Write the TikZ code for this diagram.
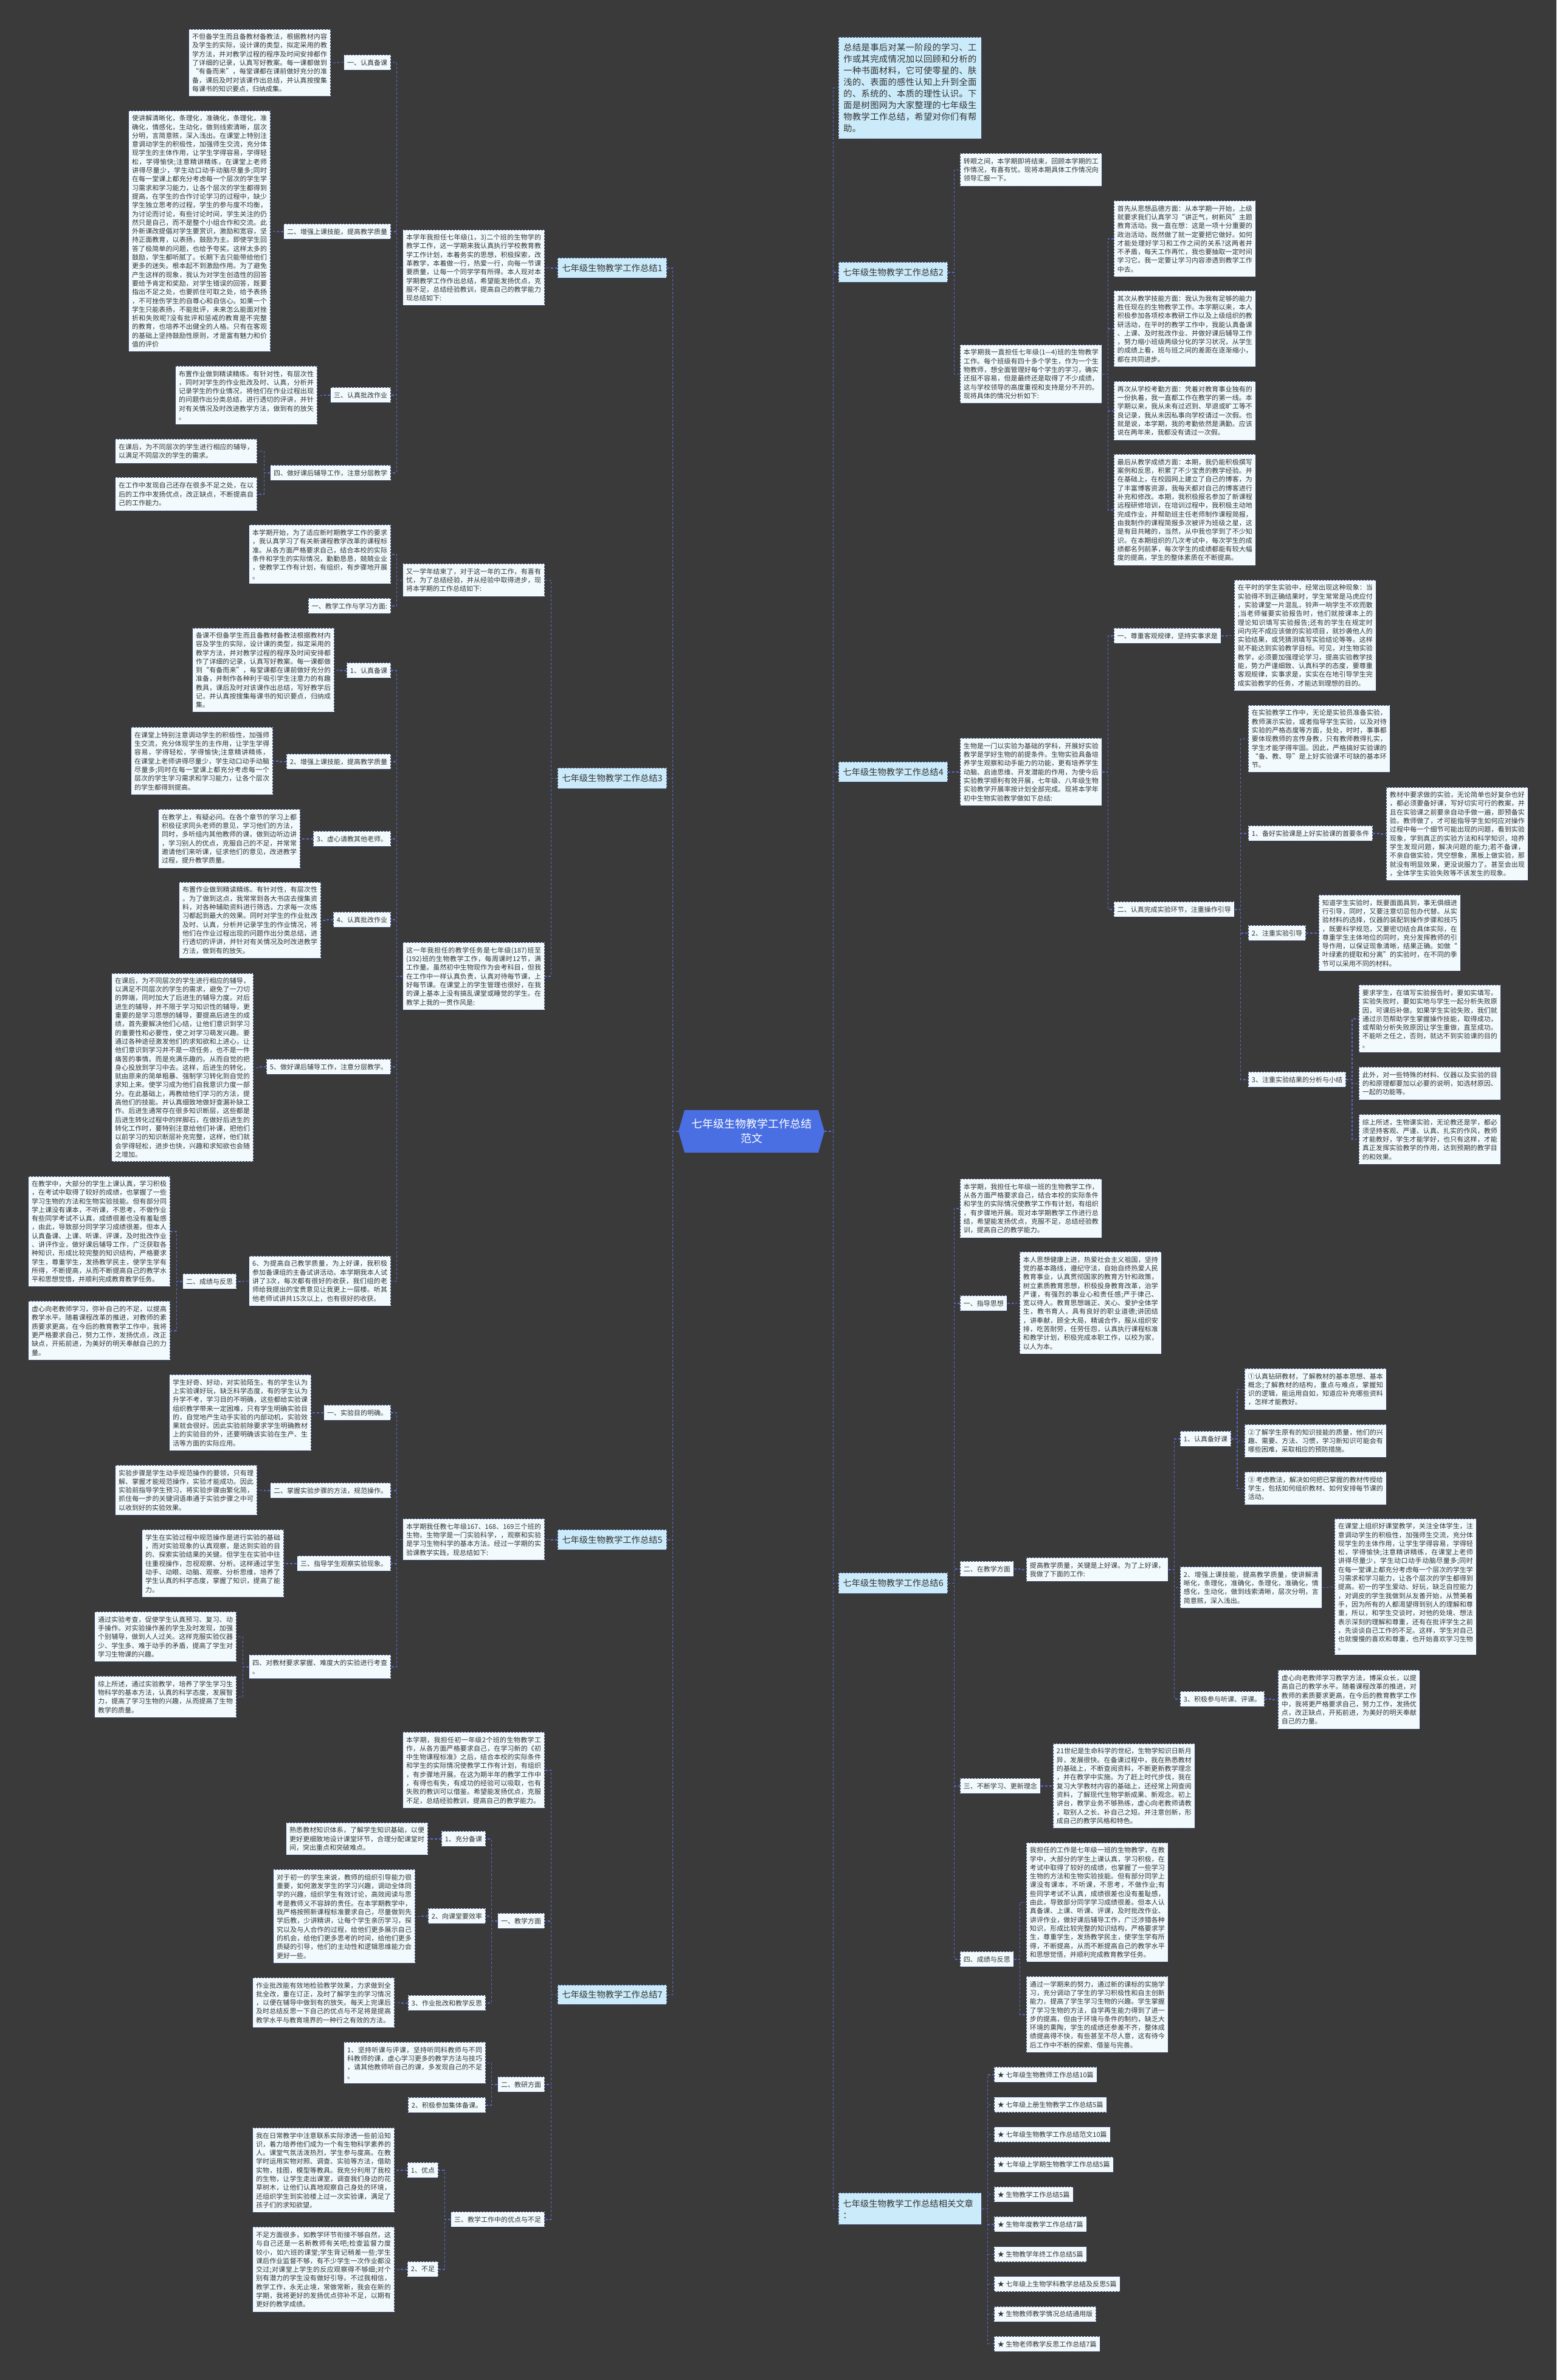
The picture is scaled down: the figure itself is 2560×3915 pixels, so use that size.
\documentclass[tikz,border=0pt]{standalone}
\usepackage{fontspec}
\setmainfont{Noto Sans CJK SC}
\usetikzlibrary{positioning}
\definecolor{bgc}{HTML}{3A3A3B}
\definecolor{boxc}{HTML}{F2FAFE}
\definecolor{headc}{HTML}{CBEBFA}
\definecolor{bordc}{HTML}{34457A}
\definecolor{linkc}{HTML}{5A68CC}
\definecolor{cenc}{HTML}{4A6FE3}
\definecolor{txtc}{HTML}{333333}
% CJK line breaks: allow a break between any two CJK characters
\XeTeXinterchartokenstate=1
\chardef\cjkc=10
\newcount\cjkn
\cjkn="2460 \loop \XeTeXcharclass\cjkn=\cjkc \advance\cjkn by 1 \ifnum\cjkn<"2500 \repeat
\cjkn="2600 \loop \XeTeXcharclass\cjkn=\cjkc \advance\cjkn by 1 \ifnum\cjkn<"2700 \repeat
\cjkn="3000 \loop \XeTeXcharclass\cjkn=\cjkc \advance\cjkn by 1 \ifnum\cjkn<"A000 \repeat
\cjkn="FF00 \loop \XeTeXcharclass\cjkn=\cjkc \advance\cjkn by 1 \ifnum\cjkn<"FFF0 \repeat
\XeTeXcharclass"201C=\cjkc \XeTeXcharclass"201D=\cjkc
\XeTeXinterchartoks\cjkc\cjkc={\hskip0pt plus 1pt\relax}
\XeTeXinterchartoks\cjkc 0={\hskip0pt plus 1pt\relax}
\XeTeXinterchartoks 0\cjkc={\hskip0pt plus 1pt\relax}
\newcommand{\fsz}[2]{\fontsize{#1}{#2}\selectfont}
% elbow connectors: parent edge -> spine -> child edge
\newcommand{\linkL}[3][10]{\draw[link] (#2.west) -- ++(-#1pt,0) |- (#3.east);}
\newcommand{\linkR}[3][10]{\draw[link] (#2.east) -- ++(#1pt,0) |- (#3.west);}
\begin{document}
\begin{tikzpicture}[x=1pt, y=-1pt,
  tb/.style={draw=bordc, dash pattern=on 3pt off 2pt, line width=0.9pt, fill=boxc, text=txtc,
    font=\fsz{11}{14.3}, text width=222pt, align=justify, inner xsep=5.5pt, inner ysep=6.5pt},
  lb/.style={draw=bordc, dash pattern=on 3pt off 2pt, line width=0.9pt, fill=boxc, text=txtc,
    font=\fsz{11}{14.3}, inner xsep=5.5pt, inner ysep=4pt, minimum height=25pt},
  hd/.style={draw=bordc, dash pattern=on 3pt off 2pt, line width=0.9pt, fill=headc, text=txtc,
    font=\fsz{14.3}{19}, inner xsep=7pt, inner ysep=4pt, minimum height=33pt},
  link/.style={draw=linkc, dash pattern=on 4pt off 3pt, line width=1.1pt},
  L/.style={anchor=north east}, R/.style={anchor=north west}]
\useasboundingbox (0,0) rectangle (2560,3915);
\fill[bgc] (0,0) rectangle (2560,3915);

% --- centre ---
\fill[cenc] (1116,1861) -- (1126,1826) -- (1346,1826) -- (1356,1861) -- (1346,1896) -- (1126,1896) -- cycle;
\node[text=white, font=\fsz{18}{24}, align=center, minimum width=240pt, minimum height=70pt] (cen) at (1236,1861) {七年级生物教学工作总结\\范文};

% --- 总结1 ---
\node[hd, L] (h1) at (1097,424) {七年级生物教学工作总结1};
\node[tb, L, minimum height=124pt] (i1) at (896,378) {本学年我担任七年级(1，3)二个班的生物学的教学工作，这一学期来我认真执行学校教育教学工作计划，本着务实的思想，积极探索，改革教学，本着做一行，热爱一行，向每一节课要质量，让每一个同学学有所得。本人现对本学期教学工作作出总结，希望能发扬优点，克服不足，总结经验教训，提高自己的教学能力现总结如下:};
\node[lb, L] (a1) at (643,90) {一、认真备课};
\node[tb, L, minimum height=110pt] (a1t) at (544,48) {不但备学生而且备教材备教法，根据教材内容及学生的实际，设计课的类型，拟定采用的教学方法，并对教学过程的程序及时间安排都作了详细的记录，认真写好教案。每一课都做到“有备而来”，每堂课都在课前做好充分的准备，课后及时对该课作出总结，并认真按搜集每课书的知识要点，归纳成集。};
\node[lb, L] (a2) at (643,368) {二、增强上课技能，提高教学质量};
\node[tb, L, minimum height=396pt] (a2t) at (445,182) {使讲解清晰化，条理化，准确化，条理化，准确化，情感化，生动化，做到线索清晰，层次分明，言简意赅，深入浅出。在课堂上特别注意调动学生的积极性，加强师生交流，充分体现学生的主体作用，让学生学得容易，学得轻松，学得愉快;注意精讲精练，在课堂上老师讲得尽量少，学生动口动手动脑尽量多;同时在每一堂课上都充分考虑每一个层次的学生学习需求和学习能力，让各个层次的学生都得到提高。在学生的合作讨论学习的过程中，缺少学生独立思考的过程，学生的参与度不均衡，为讨论而讨论，有些讨论时间，学生关注的仍然只是自己，而不是整个小组合作和交流。此外新课改提倡对学生要赏识，激励和宽容，坚持正面教育，以表扬，鼓励为主。即使学生回答了极简单的问题，也给予夸奖。这样太多的鼓励，学生都听腻了。长期下去只能带给他们更多的迷失。根本起不到激励作用。为了避免产生这样的现象，我认为对学生创造性的回答要给予肯定和奖励，对学生错误的回答，既要指出不足之处，也要抓住可取之处，给予表扬，不可挫伤学生的自尊心和自信心。如果一个学生只能表扬，不能批评，未来怎么能面对挫折和失败呢?没有批评和惩戒的教育是不完整的教育，也培养不出健全的人格。只有在客观的基础上坚持鼓励性原则，才是富有魅力和价值的评价};
\node[lb, L] (a3) at (643,637) {三、认真批改作业};
\node[tb, L, minimum height=96pt] (a3t) at (522,602) {布置作业做到精读精练。有针对性，有层次性，同时对学生的作业批改及时、认真，分析并记录学生的作业情况，将他们在作业过程出现的问题作出分类总结，进行透切的评讲，并针对有关情况及时改进教学方法，做到有的放矢。};
\node[lb, L] (a4) at (643,765) {四、做好课后辅导工作，注意分层教学};
\node[tb, L, minimum height=40pt] (a4t) at (423,722) {在课后，为不同层次的学生进行相应的辅导，以满足不同层次的学生的需求。};
\node[tb, L, minimum height=55pt] (a4u) at (423,785) {在工作中发现自己还存在很多不足之处，在以后的工作中发扬优点，改正缺点，不断提高自己的工作能力。};

% --- 总结3 ---
\node[hd, L, minimum height=34pt] (h3) at (1097,1263) {七年级生物教学工作总结3};
\node[tb, L, minimum height=54pt] (i3) at (896,927) {又一学年结束了，对于这一年的工作，有喜有忧，为了总结经验，并从经验中取得进步，现将本学期的工作总结如下:};
\node[tb, L, minimum height=97pt] (c1) at (643,863) {本学期开始，为了适应新时期教学工作的要求，我认真学习了有关新课程教学改革的课程标准。从各方面严格要求自己，结合本校的实际条件和学生的实际情况，勤勤恳恳，兢兢业业，使教学工作有计划，有组织，有步骤地开展。};
\node[lb, L] (c2) at (643,984) {一、教学工作与学习方面:};
\node[tb, L, minimum height=111pt] (i3b) at (896,1550) {这一年我担任的教学任务是七年级(187)班至(192)班的生物教学工作，每周课时12节，满工作量。虽然初中生物现作为会考科目，但我在工作中一样认真负责，认真对待每节课，上好每节课。在课堂上的学生管理也很好，在我的课上基本上没有搞乱课堂或睡觉的学生。在教学上我的一贯作风是:};
\node[lb, L] (b1) at (643,1090) {1、认真备课};
\node[tb, L, minimum height=138pt] (b1t) at (550,1033) {备课不但备学生而且备教材备教法根据教材内容及学生的实际，设计课的类型，拟定采用的教学方法，并对教学过程的程序及时间安排都作了详细的记录，认真写好教案。每一课都做到“有备而来”，每堂课都在课前做好充分的准备，并制作各种利于吸引学生注意力的有趣教具，课后及时对该课作出总结，写好教学后记，并认真按搜集每课书的知识要点，归纳成集。};
\node[lb, L] (b2) at (643,1240) {2、增强上课技能，提高教学质量};
\node[tb, L, minimum height=111pt] (b2t) at (449,1196) {在课堂上特别注意调动学生的积极性，加强师生交流，充分体现学生的主作用，让学生学得容易，学得轻松，学得愉快;注意精讲精练，在课堂上老师讲得尽量少，学生动口动手动脑尽量多;同时在每一堂课上都充分考虑每一个层次的学生学习需求和学习能力，让各个层次的学生都得到提高。};
\node[lb, L] (b3) at (643,1367) {3、虚心请教其他老师。};
\node[tb, L, minimum height=97pt] (b3t) at (494,1331) {在教学上，有疑必问。在各个章节的学习上都积极征求同头老师的意见，学习他们的方法，同时，多听组内其他教师的课，做到边听边讲，学习别人的优点，克服自己的不足，并常常邀请他们来听课，征求他们的意见，改进教学过程，提升教学质量。};
\node[lb, L] (b4) at (643,1500) {4、认真批改作业};
\node[tb, L, minimum height=125pt] (b4t) at (528,1451) {布置作业做到精读精练。有针对性，有层次性。为了做到这点，我常常到各大书店去搜集资料，对各种辅助资料进行筛选，力求每一次练习都起到最大的效果。同时对学生的作业批改及时、认真，分析并记录学生的作业情况，将他们在作业过程出现的问题作出分类总结，进行透切的评讲，并针对有关情况及时改进教学方法，做到有的放矢。};
\node[lb, L] (b5) at (643,1742) {5、做好课后辅导工作，注意分层教学。};
\node[tb, L, minimum height=309pt] (b5t) at (417,1601) {在课后，为不同层次的学生进行相应的辅导，以满足不同层次的学生的需求，避免了一刀切的弊端，同时加大了后进生的辅导力度。对后进生的辅导，并不限于学习知识性的辅导，更重要的是学习思想的辅导，要提高后进生的成绩，首先要解决他们心结，让他们意识到学习的重要性和必要性，使之对学习萌发兴趣。要通过各种途径激发他们的求知欲和上进心，让他们意识到学习并不是一项任务，也不是一件痛苦的事情。而是充满乐趣的。从而自觉的把身心投放到学习中去。这样，后进生的转化，就由原来的简单粗暴、强制学习转化到自觉的求知上来。使学习成为他们自我意识力度一部分。在此基础上，再教给他们学习的方法，提高他们的技能。并认真细致地做好查漏补缺工作。后进生通常存在很多知识断层，这些都是后进生转化过程中的拌脚石，在做好后进生的转化工作时，要特别注意给他们补课，把他们以前学习的知识断层补充完整，这样，他们就会学得轻松，进步也快，兴趣和求知欲也会随之增加。};
\node[tb, L, minimum height=82pt] (b6) at (643,2066) {6、为提高自己教学质量，为上好课，我积极参加备课组的主备试讲活动。本学期我本人试讲了3次，每次都有很好的收获，我们组的老师给我提出的宝贵意见让我更上一层楼。听其他老师试讲共15次以上，也有很好的收获。};
\node[lb, L] (b7) at (389,2095) {二、成绩与反思};
\node[tb, L, minimum height=181pt] (b7t) at (280,1935) {在教学中，大部分的学生上课认真，学习积极，在考试中取得了较好的成绩，也掌握了一些学习生物的方法和生物实验技能。但有部分同学上课没有课本，不听课，不思考，不做作业有些同学考试不认真，成绩很差也没有羞耻感，由此，导致部分同学学习成绩很差。但本人认真备课、上课、听课、评课，及时批改作业、讲评作业，做好课后辅导工作，广泛获取各种知识，形成比较完整的知识结构，严格要求学生，尊重学生，发扬教学民主，使学生学有所得，不断提高，从而不断提高自己的教学水平和思想觉悟，并顺利完成教育教学任务。};
\node[tb, L, minimum height=97pt] (b7u) at (280,2140) {虚心向老教师学习，弥补自己的不足，以提高教学水平。随着课程改革的推进，对教师的素质要求更高，在今后的教育教学工作中，我将更严格要求自己，努力工作，发扬优点，改正缺点，开拓前进，为美好的明天奉献自己的力量。};

% --- 总结5 ---
\node[hd, L] (h5) at (1097,2516) {七年级生物教学工作总结5};
\node[tb, L, minimum height=68pt] (i5) at (896,2498) {本学期我任教七年级167、168、169三个班的生物。生物学是一门实验科学，，观察和实验是学习生物科学的基本方法。经过一学期的实验课教学实践，现总结如下:};
\node[lb, L] (d1) at (643,2311) {一、实验目的明确。};
\node[tb, L, minimum height=125pt] (d1t) at (512,2261) {学生好奇、好动，对实验陌生。有的学生认为上实验课好玩，缺乏科学态度，有的学生认为升学不考，学习目的不明确，这些都给实验课组织教学带来一定困难，只有学生明确实验目的，自觉地产生动手实验的内部动机，实验效果就会很好。因此实验前除要求学生明确教材上的实验目的外，还要明确该实验在生产、生活等方面的实际应用。};
\node[lb, L] (d2) at (643,2439) {二、掌握实验步骤的方法，规范操作。};
\node[tb, L, minimum height=82pt] (d2t) at (423,2410) {实验步骤是学生动手规范操作的要领，只有理解、掌握才能规范操作，实验才能成功。因此实验前指导学生预习，将实验步骤由繁化简，抓住每一步的关键词语串通于实验步骤之中可以收到好的实验效果。};
\node[lb, L] (d3) at (643,2559) {三、指导学生观察实验现象。};
\node[tb, L, minimum height=111pt] (d3t) at (467,2516) {学生在实验过程中规范操作是进行实验的基础，而对实验现象的认真观察，是达到实验的目的、探索实验结果的关键。但学生在实验中往往重视操作，忽视观察、分析。这样通过学生动手、动眼、动脑、观察、分析思维，培养了学生认真的科学态度，掌握了知识，提高了能力。};
\node[tb, L, minimum height=39pt, inner ysep=4pt] (d4) at (643,2722) {四、对教材要求掌握、难度大的实验进行考查。};
\node[tb, L, minimum height=82pt] (d4t) at (389,2651) {通过实验考查，促使学生认真预习、复习、动手操作。对实验操作差的学生及时发现，加强个别辅导，做到人人过关。这样克服实验仪器少、学生多、难于动手的矛盾，提高了学生对学习生物课的兴趣。};
\node[tb, L, minimum height=68pt] (d4u) at (389,2757) {综上所述，通过实验教学，培养了学生学习生物科学的基本方法，认真的科学态度，发展智力，提高了学习生物的兴趣，从而提高了生物教学的质量。};

% --- 总结7 ---
\node[hd, L, minimum height=32pt] (h7) at (1097,3265) {七年级生物教学工作总结7};
\node[tb, L, minimum height=125pt] (i7) at (896,2849) {本学期，我担任初一年级2个班的生物教学工作，从各方面严格要求自己，在学习新的《初中生物课程标准》之后，结合本校的实际条件和学生的实际情况使教学工作有计划，有组织，有步骤地开展。在这为期半年的教学工作中，有得也有失，有成功的经验可以吸取，也有失败的教训可以借鉴。希望能发扬优点，克服不足，总结经验教训，提高自己的教学能力。};
\node[lb, L] (e1) at (896,3147) {一、教学方面};
\node[lb, L] (f1) at (799,3012) {1、充分备课};
\node[tb, L, minimum height=53pt] (f1t) at (704,2998) {熟悉教材知识体系，了解学生知识基础，以便更好更细致地设计课堂环节，合理分配课堂时间，突出重点和突破难点。};
\node[lb, L] (f2) at (799,3139) {2、向课堂要效率};
\node[tb, L, minimum height=154pt] (f2t) at (683,3075) {对于初一的学生来说，教师的组织引导能力很重要，如何激发学生的学习兴趣，调动全体同学的兴趣，组织学生有效讨论，高效阅读与思考是教师义不容辞的责任。在本学期教学中，我严格按照新课程标准要求自己，尽量做到先学后教，少讲精讲，让每个学生亲历学习，探究以及与人合作的过程，给他们更多展示自己的机会，给他们更多思考的时间，给他们更多质疑的引导，他们的主动性和逻辑思维能力会更好一些。};
\node[lb, L] (f3) at (799,3282) {3、作业批改和教学反思};
\node[tb, L, minimum height=82pt] (f3t) at (649,3253) {作业批改能有效地检验教学效果，力求做到全批全改，重在订正，及时了解学生的学习情况，以便在辅导中做到有的放矢。每天上完课后及时总结反思一下自己的优点与不足将是提高教学水平与教育境界的一种行之有效的方法。};
\node[lb, L] (e2) at (896,3416) {二、教研方面};
\node[tb, L, minimum height=68pt] (e2t) at (799,3359) {1、坚持听课与评课，坚持听同科教师与不同科教师的课，虚心学习更多的教学方法与技巧，请其他教师听自己的课，多发现自己的不足。};
\node[lb, L] (e2u) at (799,3450) {2、积极参加集体备课。};
\node[lb, L] (e3) at (896,3638) {三、教学工作中的优点与不足};
\node[lb, L] (g1) at (721,3557) {1、优点};
\node[tb, L, minimum height=139pt] (g1t) at (649,3500) {我在日常教学中注意联系实际渗透一些前沿知识，着力培养他们成为一个有生物科学素养的人。课堂气氛活泼热烈，学生参与度高。在教学时运用实物对照、调查、实验等方法，借助实物，挂图，模型等教具。我充分利用了我校的生物，让学生走出课室，调查我们身边的花草树木，让他们认真地观察自己身处的环境，还组织学生到实验楼上过一次实验课，满足了孩子们的求知欲望。};
\node[lb, L] (g2) at (721,3720) {2、不足};
\node[tb, L, minimum height=140pt] (g2t) at (649,3663) {不足方面很多，如教学环节衔接不够自然，这与自己还是一名新教师有关吧;检查监督力度较小，如六班的课堂;学生背记稍差一些;学生课后作业监督不够，有不少学生一次作业都没交过;对课堂上学生的反应观察得不够细;对个别有潜力的学生没有做好引导。不过我相信，教学工作，永无止境，常做常新，我会在新的学期，我将更好的发扬优点弥补不足，以期有更好的教学成绩。};

% --- intro (top right) ---
\node[tb, R, fill=headc, font=\fsz{14.3}{19}, text width=219pt, inner xsep=8pt, inner ysep=10pt, minimum height=167pt] (tp) at (1379,61) {总结是事后对某一阶段的学习、工作或其完成情况加以回顾和分析的一种书面材料，它可使零星的、肤浅的、表面的感性认知上升到全面的、系统的、本质的理性认识。下面是树图网为大家整理的七年级生物教学工作总结，希望对你们有帮助。};

% --- 总结2 ---
\node[hd, R] (h2) at (1379,431) {七年级生物教学工作总结2};
\node[tb, R, minimum height=54pt] (j1) at (1579,252) {转眼之间，本学期即将结束，回顾本学期的工作情况，有喜有忧。现将本期具体工作情况向领导汇报一下。};
\node[tb, R, minimum height=96pt] (j2) at (1579,567) {本学期我一直担任七年级(1—4)班的生物教学工作。每个班级有四十多个学生，作为一个生物教师，想全面管理好每个学生的学习，确实还挺不容易，但是最终还是取得了不少成绩，这与学校领导的高度重视和支持是分不开的。现将具体的情况分析如下:};
\node[tb, R, minimum height=125pt] (k1) at (1832,330) {首先从思想品德方面：从本学期一开始，上级就要求我们认真学习“讲正气，树新风”主题教育活动。我一直在想：这是一项十分重要的政治活动，既然做了就一定要把它做好。如何才能处理好学习和工作之间的关系?这两者并不矛盾，每天工作再忙，我也要抽取一定时间学习它。我一定要让学习内容渗透到教学工作中去。};
\node[tb, R, minimum height=125pt] (k2) at (1832,478) {其次从教学技能方面：我认为我有足够的能力胜任现在的生物教学工作。本学期以来，本人积极参加各项校本教研工作以及上级组织的教研活动，在平时的教学工作中，我能认真备课、上课、及时批改作业、并做好课后辅导工作，努力缩小班级两级分化的学习状况，从学生的成绩上看，班与班之间的差距在逐渐缩小，都在共同进步。};
\node[tb, R, minimum height=97pt] (k3) at (1832,627) {再次从学校考勤方面：凭着对教育事业独有的一份执着，我一直都工作在教学的第一线。本学期以来，我从未有过迟到、早退或旷工等不良记录，我从未因私事向学校请过一次假。也就是说，本学期，我的考勤依然是满勤。应该说在两年来，我都没有请过一次假。};
\node[tb, R, minimum height=183pt] (k4) at (1832,747) {最后从教学成绩方面：本期，我仍能积极撰写案例和反思，积累了不少宝贵的教学经验。并在基础上，在校园网上建立了自己的博客，为了丰富博客资源，我每天都对自己的博客进行补充和修改。本期，我积极报名参加了新课程远程研修培训，在培训过程中，我积极主动地完成作业，并帮助班主任老师制作课程简报，由我制作的课程简报多次被评为班级之星，这是有目共睹的，当然，从中我也学到了不少知识。在本期组织的几次考试中，每次学生的成绩都名列前茅，每次学生的成绩都能有较大幅度的提高，学生的整体素质在不断提高。};

% --- 总结4 ---
\node[hd, R] (h4) at (1379,1253) {七年级生物教学工作总结4};
\node[tb, R, minimum height=111pt] (m4) at (1579,1214) {生物是一门以实验为基础的学科，开展好实验教学是学好生物的前提条件。生物实验具备培养学生观察和动手能力的功能，更有培养学生动脑、启迪思维、开发潜能的作用，为使今后实验教学顺利有效开展，七年级、八年级生物实验教学开展率按计划全部完成。现将本学年初中生物实验教学做如下总结:};
\node[lb, R] (n1) at (1832,1033) {一、尊重客观规律，坚持实事求是};
\node[tb, R, minimum height=182pt] (n1t) at (2030,954) {在平时的学生实验中，经常出现这种现象：当实验得不到正确结果时，学生常常是马虎应付，实验课堂一片混乱，铃声一响学生不欢而散;当老师催要实验报告时，他们就按课本上的理论知识填写实验报告;还有的学生在规定时间内完不成应该做的实验项目，就抄袭他人的实验结果，或凭猜测填写实验结论等等。这样就不能达到实验教学目标。可见，对生物实验教学，必须要加强理论学习，提高实验教学技能，势力严谨细致、认真科学的态度，要尊重客观规律，实事求是，实实在在地引导学生完成实验教学的任务，才能达到理想的目的。};
\node[lb, R] (n2) at (1832,1483) {二、认真完成实验环节，注重操作引导};
\node[tb, R, minimum height=110pt] (p0) at (2053,1160) {在实验教学工作中，无论是实验员准备实验，教师演示实验，或者指导学生实验，以及对待实验的严格态度等方面，处处，时时，事事都要体现教师的言传身教，只有教师教得扎实，学生才能学得牢固。因此，严格搞好实验课的“备、教、导”是上好实验课不可缺的基本环节。};
\node[lb, R] (p1) at (2053,1358) {1、备好实验课是上好实验课的首要条件};
\node[tb, R, minimum height=153pt] (p1t) at (2280,1295) {教材中要求做的实验，无论简单也好复杂也好，都必须要备好课，写好切实可行的教案，并且在实验课之前要亲自动手做一遍，即预备实验。教师做了，才可能指导学生如何应对操作过程中每一个细节可能出现的问题，看到实验现象，学到真正的实验方法和科学知识，培养学生发现问题，解决问题的能力;若不备课，不亲自做实验，凭空想象，黑板上做实验，那就没有明显效果，更没说服力了。甚至会出现，全体学生实验失败等不该发生的现象。};
\node[lb, R] (p2) at (2053,1522) {2、注重实验引导};
\node[tb, R, minimum height=125pt] (p2t) at (2169,1472) {知道学生实验时，既要面面具到，事无俱细进行引导，同时，又要注意切忌包办代替。从实验材料的选择，仪器的装配到操作步骤和技巧，既要科学规范，又要密切结合具体实际，在尊重学生主体地位的同时，充分发挥教师的引导作用，以保证现象清晰，结果正确。如做“叶绿素的提取和分离”的实验时，在不同的季节可以采用不同的材料。};
\node[lb, R] (p3) at (2053,1763) {3、注重实验结果的分析与小结};
\node[tb, R, minimum height=111pt] (q1) at (2235,1620) {要求学生，在填写实验报告时，要如实填写。实验失败时，要如实地与学生一起分析失败原因，可课后补做。如果学生实验失败，我们就通过示范帮助学生掌握操作技能，取得成功，或帮助分析失败原因让学生重做，直至成功。不能听之任之，否则，就达不到实验课的目的。};
\node[tb, R, minimum height=54pt] (q2) at (2235,1755) {此外，对一些特殊的材料、仪器以及实验的目的和原理都要加以必要的说明，如选材原因、一起的功能等。};
\node[tb, R, minimum height=82pt] (q3) at (2235,1833) {综上所述，生物课实验，无论教还是学，都必须坚持客观、严谨、认真、扎实的作风，教师才能教好，学生才能学好，也只有这样，才能真正发挥实验教学的作用，达到预期的教学目的和效果。};

% --- 总结6 ---
\node[hd, R, minimum height=34pt] (h6) at (1379,2587) {七年级生物教学工作总结6};
\node[tb, R, minimum height=97pt] (r0) at (1579,1939) {本学期，我担任七年级一班的生物教学工作，从各方面严格要求自己，结合本校的实际条件和学生的实际情况使教学工作有计划，有组织，有步骤地开展。现对本学期教学工作进行总结，希望能发扬优点，克服不足，总结经验教训，提高自己的教学能力。};
\node[lb, R] (r1) at (1579,2131) {一、指导思想};
\node[tb, R, minimum height=168pt] (r1t) at (1677,2059) {本人思想健康上进，热爱社会主义祖国，坚持党的基本路线，遵纪守法，自始自终热爱人民教育事业，认真贯彻国家的教育方针和政策，树立素质教育思想，积极投身教育改革，治学严谨，有强烈的事业心和责任感;严于律己、宽以待人。教育思想端正、关心、爱护全体学生，教书育人，具有良好的职业道德;讲团结，讲奉献，顾全大局，精诚合作，服从组织安排，吃苦耐劳，任劳任怨，认真执行课程标准和教学计划，积极完成本职工作，以校为家，以人为本。};
\node[lb, R] (r2) at (1579,2568) {二、在教学方面};
\node[tb, R, minimum height=39pt, inner ysep=4pt] (s0) at (1688,2562) {提高教学质量，关键是上好课。为了上好课，我做了下面的工作:};
\node[lb, R] (s1) at (1941,2354) {1、认真备好课};
\node[tb, R, minimum height=68pt] (u1) at (2047,2251) {①认真钻研教材，了解教材的基本思想、基本概念;了解教材的结构，重点与难点，掌握知识的逻辑，能运用自如，知道应补充哪些资料，怎样才能教好。};
\node[tb, R, minimum height=54pt] (u2) at (2047,2343) {②了解学生原有的知识技能的质量，他们的兴趣、需要、方法、习惯，学习新知识可能会有哪些困难，采取相应的预防措施。};
\node[tb, R, minimum height=54pt] (u3) at (2047,2421) {③ 考虑教法，解决如何把已掌握的教材传授给学生，包括如何组织教材、如何安排每节课的活动。};
\node[tb, R, minimum height=68pt] (s2) at (1941,2577) {2、增强上课技能，提高教学质量，使讲解清晰化，条理化，准确化，条理化，准确化，情感化，生动化，做到线索清晰，层次分明，言简意赅，深入浅出。};
\node[tb, R, minimum height=224pt] (s2t) at (2195,2498) {在课堂上组织好课堂教学，关注全体学生，注意调动学生的积极性，加强师生交流，充分体现学生的主体作用，让学生学得容易，学得轻松，学得愉快;注意精讲精练，在课堂上老师讲得尽量少，学生动口动手动脑尽量多;同时在每一堂课上都充分考虑每一个层次的学生学习需求和学习能力，让各个层次的学生都得到提高。初一的学生爱动、好玩，缺乏自控能力，对调皮的学生我做到从友善开始，从赞美着手，因为所有的人都渴望得到别人的理解和尊重，所以，和学生交谈时，对他的处境、想法表示深刻的理解和尊重，还有在批评学生之前，先谈谈自己工作的不足。这样，学生对自己也就慢慢的喜欢和尊重，也开始喜欢学习生物。};
\node[lb, R] (s3) at (1941,2782) {3、积极参与听课、评课。};
\node[tb, R, minimum height=97pt] (s3t) at (2102,2747) {虚心向老教师学习教学方法，博采众长，以提高自己的教学水平。随着课程改革的推进，对教师的素质要求更高，在今后的教育教学工作中，我将更严格要求自己，努力工作，发扬优点，改正缺点，开拓前进，为美好的明天奉献自己的力量。};
\node[lb, R] (r3) at (1579,2925) {三、不断学习、更新理念};
\node[tb, R, minimum height=139pt] (r3t) at (1732,2868) {21世纪是生命科学的世纪，生物学知识日新月异，发展很快。在备课过程中，我在熟悉教材的基础上，不断查阅资料，不断更新教学理念，并在教学中实施。为了赶上时代步伐，我在复习大学教材内容的基础上，还经常上网查阅资料，了解现代生物学新成果、新观念。初上讲台，教学业务不够熟练，虚心向老教师请教，取别人之长、补自己之短。并注意创新，形成自己的教学风格和特色。};
\node[lb, R] (r4) at (1579,3210) {四、成绩与反思};
\node[tb, R, minimum height=196pt] (v1) at (1688,3031) {我担任的工作是七年级一班的生物教学，在教学中，大部分的学生上课认真，学习积极，在考试中取得了较好的成绩，也掌握了一些学习生物的方法和生物实验技能。但有部分同学上课没有课本，不听课，不思考，不做作业;有些同学考试不认真，成绩很差也没有羞耻感，由此，导致部分同学学习成绩很差。但本人认真备课、上课、听课、评课，及时批改作业、讲评作业，做好课后辅导工作，广泛涉猎各种知识，形成比较完整的知识结构，严格要求学生，尊重学生，发扬教学民主，使学生学有所得，不断提高，从而不断提高自己的教学水平和思想觉悟，并顺利完成教育教学任务。};
\node[tb, R, minimum height=125pt] (v2) at (1688,3251) {通过一学期来的努力，通过新的课标的实施学习，充分调动了学生的学习积极性和自主创新能力，提高了学生学习生物的兴趣。学生掌握了学习生物的方法，自学再生能力得到了进一步的提高，但由于环境与条件的制约，缺乏大环境的熏陶，学生的成绩还参差不齐，整体成绩提高得不快，有些甚至不尽人意，这有待今后工作中不断的探索、借鉴与完善。};

% --- 相关文章 ---
\node[hd, R, text width=221pt, align=left, minimum height=52pt] (h8) at (1379,3607) {七年级生物教学工作总结相关文章\\：};
\foreach \t [count=\i] in {七年级生物教师工作总结10篇, 七年级上册生物教学工作总结5篇, 七年级生物教学工作总结范文10篇, 七年级上学期生物教学工作总结5篇, 生物教学工作总结5篇, 生物年度教学工作总结7篇, 生物教学年终工作总结5篇, 七年级上生物学科教学总结及反思5篇, 生物教师教学情况总结通用版, 生物老师教学反思工作总结7篇} {
  \node[lb, R] (w\i) at (1635, {3400+(\i-1)*49.2}) {★ \t};
  \linkR{h8}{w\i}
}

% --- connectors ---
\foreach \h in {h1,h3,h5,h7} \linkL[9]{cen}{\h};
\foreach \h in {tp,h2,h4,h6,h8} \linkR[14]{cen}{\h};
\linkL{h1}{i1}
\foreach \c in {a1,a2,a3,a4} \linkL{i1}{\c};
\linkL{a1}{a1t} \linkL{a2}{a2t} \linkL{a3}{a3t}
\linkL{a4}{a4t} \linkL{a4}{a4u}
\linkL{h3}{i3} \linkL{h3}{i3b}
\linkL{i3}{c1} \linkL{i3}{c2}
\foreach \c in {b1,b2,b3,b4,b5,b6} \linkL{i3b}{\c};
\linkL{b1}{b1t} \linkL{b2}{b2t} \linkL{b3}{b3t} \linkL{b4}{b4t} \linkL{b5}{b5t}
\linkL{b6}{b7} \linkL{b7}{b7t} \linkL{b7}{b7u}
\linkL{h5}{i5}
\foreach \c in {d1,d2,d3,d4} \linkL{i5}{\c};
\linkL{d1}{d1t} \linkL{d2}{d2t} \linkL{d3}{d3t}
\linkL{d4}{d4t} \linkL{d4}{d4u}
\foreach \c in {i7,e1,e2,e3} \linkL{h7}{\c};
\foreach \c in {f1,f2,f3} \linkL{e1}{\c};
\linkL{f1}{f1t} \linkL{f2}{f2t} \linkL{f3}{f3t}
\linkL{e2}{e2t} \linkL{e2}{e2u}
\linkL{e3}{g1} \linkL{e3}{g2}
\linkL{g1}{g1t} \linkL{g2}{g2t}
\linkR{h2}{j1} \linkR{h2}{j2}
\foreach \c in {k1,k2,k3,k4} \linkR{j2}{\c};
\linkR{h4}{m4}
\linkR{m4}{n1} \linkR{m4}{n2} \linkR{n1}{n1t}
\foreach \c in {p0,p1,p2,p3} \linkR{n2}{\c};
\linkR{p1}{p1t} \linkR{p2}{p2t}
\foreach \c in {q1,q2,q3} \linkR{p3}{\c};
\foreach \c in {r0,r1,r2,r3,r4} \linkR{h6}{\c};
\linkR{r1}{r1t} \linkR{r2}{s0}
\foreach \c in {s1,s2,s3} \linkR{s0}{\c};
\foreach \c in {u1,u2,u3} \linkR{s1}{\c};
\linkR{s2}{s2t} \linkR{s3}{s3t}
\linkR{r3}{r3t} \linkR{r4}{v1} \linkR{r4}{v2}
\end{tikzpicture}
\end{document}
